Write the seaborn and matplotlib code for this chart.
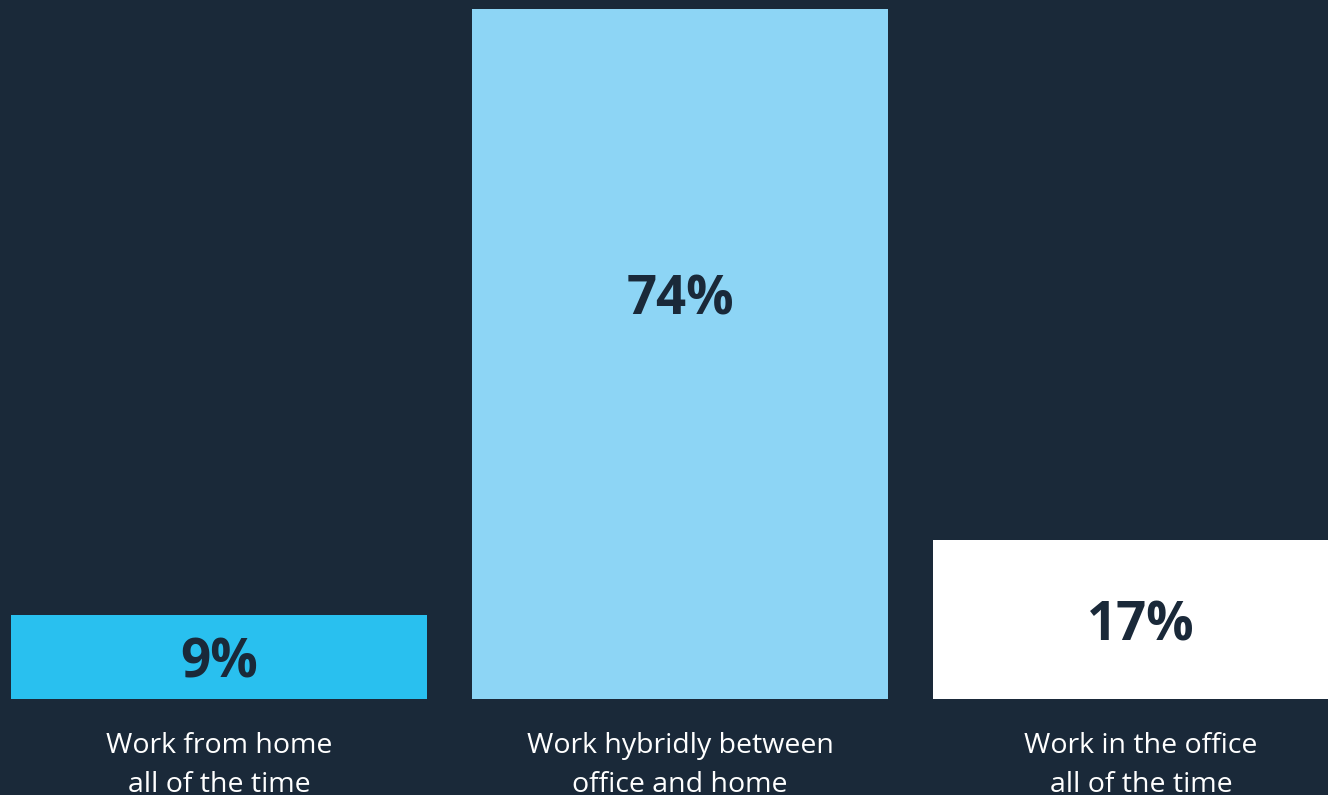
import matplotlib
matplotlib.use("Agg")
import matplotlib.pyplot as plt
import seaborn as sns
import pandas as pd

# datos del gráfico
categorias = ["Work from home\nall of the time",
              "Work hybridly between\noffice and home",
              "Work in the office\nall of the time"]
valores = [9, 74, 17]
etiquetas = ["9%", "74%", "17%"]
colores = ["#29c0ef", "#8dd5f5", "#ffffff"]

fondo = "#1a2939"
texto_oscuro = "#1a2939"

sns.set_theme(style="white")
plt.rcParams["font.family"] = ["Open Sans", "DejaVu Sans"]

df = pd.DataFrame({"categoria": categorias, "valor": valores})

fig = plt.figure(figsize=(13.28, 7.95), dpi=100, facecolor=fondo)
ax = fig.add_axes([0, 96 / 795, 1, 690 / 795])
ax.set_facecolor(fondo)

sns.barplot(data=df, x="categoria", y="valor", hue="categoria",
            palette=colores, width=0.902, legend=False, ax=ax,
            saturation=1, linewidth=0)

ax.set_xlim(-0.475, 2.4056)
ax.set_ylim(0, 74)

# etiquetas de valor dentro de las barras (la grande va más arriba)
for i, (v, txt) in enumerate(zip(valores, etiquetas)):
    y = v / 2 if v < 40 else v - 30.6
    ax.text(i, y, txt, ha="center", va="center_baseline",
            fontsize=38, fontweight="bold", color=texto_oscuro)

ax.set_xlabel("")
ax.set_ylabel("")
ax.set_yticks([])
ax.set_xticks(range(len(categorias)))
ax.set_xticklabels(categorias, linespacing=1.5, fontsize=20.5,
                   color="white")
ax.tick_params(axis="x", length=0, pad=24)
sns.despine(ax=ax, left=True, bottom=True)

fig.savefig("out.png", dpi=100, facecolor=fondo)
